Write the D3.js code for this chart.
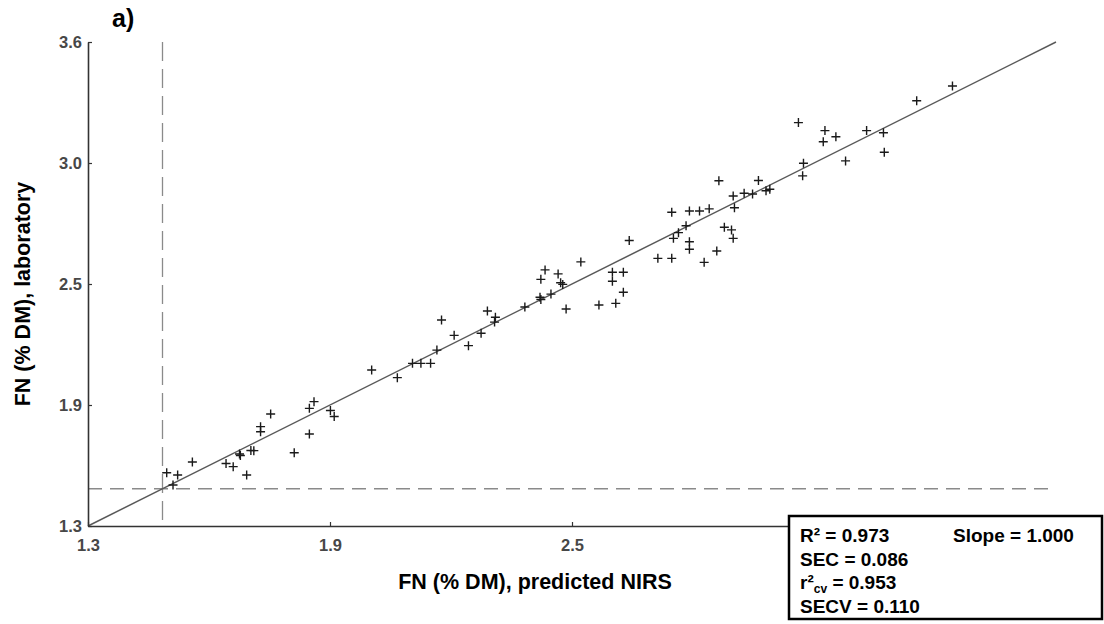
<!DOCTYPE html>
<html>
<head>
<meta charset="utf-8">
<script src="https://cdn.jsdelivr.net/npm/d3@7/dist/d3.min.js"></script>
<style>
  html, body { margin: 0; padding: 0; background: #fff; }
  svg { display: block; }
  text { white-space: pre; }
</style>
</head>
<body>
<svg id="chart" width="1104" height="624"></svg>
<script>
// ---- data ----
const predictedNIRS = [1.487,1.513,1.502,1.548,1.628,1.645,1.660,1.662,1.687,1.694,1.677,1.710,1.710,1.734,1.790,1.826,1.826,1.837,1.876,1.885,
  1.974,2.035,2.071,2.091,2.114,2.129,2.140,2.170,2.204,2.234,2.249,2.268,2.266,2.338,2.436,2.514,2.374,2.376,2.400,2.376,
  2.386,2.417,2.423,2.428,2.471,2.554,2.546,2.546,2.572,2.572,2.586,2.654,2.687,2.687,2.691,2.703,2.721,2.729,2.729,2.729,
  2.753,2.776,2.764,2.794,2.812,2.829,2.833,2.833,2.836,2.799,2.859,2.879,2.893,2.911,2.920,2.988,3.000,2.998,3.047,3.051,
  3.077,3.100,3.150,3.190,3.192,3.269,3.354];
const laboratory = [1.553,1.542,1.495,1.604,1.597,1.582,1.642,1.635,1.659,1.658,1.542,1.772,1.748,1.832,1.648,1.737,1.859,1.891,1.849,1.820,
  2.041,2.005,2.073,2.073,2.073,2.136,2.279,2.206,2.157,2.216,2.322,2.292,2.269,2.341,2.331,2.350,2.387,2.376,2.402,2.472,
  2.517,2.498,2.456,2.448,2.555,2.358,2.506,2.463,2.506,2.411,2.657,2.572,2.572,2.791,2.667,2.694,2.727,2.651,2.615,2.797,
  2.797,2.807,2.553,2.607,2.720,2.707,2.667,2.868,2.812,2.941,2.881,2.878,2.942,2.893,2.900,3.217,3.024,2.964,3.126,3.179,
  3.150,3.035,3.179,3.169,3.076,3.321,3.391];
const axisDomain = [1.3, 3.6];
const yTickValues = [1.3, 1.875, 2.45, 3.025, 3.6];
const yTickLabels = ["1.3", "1.9", "2.5", "3.0", "3.6"];
// x ticks at 3.025 and 3.6 are hidden beneath the statistics box in the original
const xTickValues = [1.3, 1.875, 2.45, 3.025, 3.6];
const xTickLabels = ["1.3", "1.9", "2.5", "", ""];
const thresholdValue = 1.477;
const statsLines = [
  {label: "R²", sub: null, value: "= 0.973"},
  {label: "SEC", sub: null, value: "= 0.086"},
  {label: "r²", sub: "cv", value: "= 0.953"},
  {label: "SECV", sub: null, value: "= 0.110"}
];
const slopeText = "Slope = 1.000";
const panelTitle = "a)";
const xTitle = "FN (% DM), predicted NIRS";
const yTitle = "FN (% DM), laboratory";

// ---- drawing ----
const font = "'Liberation Sans', Arial, sans-serif";
const svg = d3.select("#chart");
const x = d3.scaleLinear().domain(axisDomain).range([88, 1056]);
const y = d3.scaleLinear().domain(axisDomain).range([526, 42]);

// dashed threshold lines
svg.append("line")
  .attr("x1", x(thresholdValue)).attr("x2", x(thresholdValue))
  .attr("y1", y(axisDomain[1])).attr("y2", y(axisDomain[0]))
  .attr("stroke", "#8a8a8a").attr("stroke-width", 1.3)
  .attr("stroke-dasharray", "19,8");
svg.append("line")
  .attr("x1", x(axisDomain[0])).attr("x2", x(axisDomain[1]))
  .attr("y1", y(thresholdValue)).attr("y2", y(thresholdValue))
  .attr("stroke", "#8a8a8a").attr("stroke-width", 1.3)
  .attr("stroke-dasharray", "14,8");

// 1:1 line
svg.append("line")
  .attr("x1", x(axisDomain[0])).attr("y1", y(axisDomain[0]))
  .attr("x2", x(axisDomain[1])).attr("y2", y(axisDomain[1]))
  .attr("stroke", "#5a5a5a").attr("stroke-width", 1.5);

// axes
const yAxis = svg.append("g").attr("transform", `translate(${x(axisDomain[0])},0)`)
  .call(d3.axisLeft(y).tickValues(yTickValues).tickFormat((d, i) => yTickLabels[i])
    .tickSizeInner(-4).tickSizeOuter(0).tickPadding(6));
const xAxis = svg.append("g").attr("transform", `translate(0,${y(axisDomain[0])})`)
  .call(d3.axisBottom(x).tickValues(xTickValues).tickFormat((d, i) => xTickLabels[i])
    .tickSizeInner(-4).tickSizeOuter(0).tickPadding(13));
[yAxis, xAxis].forEach(g => {
  g.select(".domain").attr("stroke", "#333").attr("stroke-width", 1.6);
  g.selectAll(".tick line").attr("stroke", "#333").attr("stroke-width", 1.2);
  g.selectAll(".tick text")
    .attr("fill", "#474747")
    .style("font-family", font)
    .style("font-size", "16.5px")
    .style("font-weight", "bold");
});
yAxis.selectAll(".tick text").attr("dy", "0.36em");
xAxis.selectAll(".tick text").filter(function() { return this.textContent === ""; }).remove();

// points as plus markers
const pts = predictedNIRS.map((v, i) => [v, laboratory[i]]);
const s = 4.5;
svg.append("g").selectAll("path").data(pts).join("path")
  .attr("d", d => `M${x(d[0]) - s},${y(d[1])}H${x(d[0]) + s}M${x(d[0])},${y(d[1]) - s}V${y(d[1]) + s}`)
  .attr("stroke", "#1a1a1a").attr("stroke-width", 1.4).attr("fill", "none");

// titles
svg.append("text").attr("x", 112).attr("y", 27).text(panelTitle)
  .style("font-family", font).style("font-size", "25px").style("font-weight", "bold");
svg.append("text").attr("x", 535).attr("y", 589).attr("text-anchor", "middle").text(xTitle)
  .style("font-family", font).style("font-size", "21.5px").style("font-weight", "bold");
svg.append("text").attr("transform", "translate(30,294) rotate(-90)").attr("text-anchor", "middle").text(yTitle)
  .style("font-family", font).style("font-size", "21.5px").style("font-weight", "bold");

// stats box
const box = svg.append("g");
box.append("rect").attr("x", 789).attr("y", 516).attr("width", 313).attr("height", 103)
  .attr("fill", "#fff").attr("stroke", "#000").attr("stroke-width", 2.5);
statsLines.forEach((st, i) => {
  const by = 542 + i * 23.5;
  let cx = 800;
  const t1 = box.append("text").attr("x", cx).attr("y", by).text(st.label)
    .style("font-family", font).style("font-size", "19px").style("font-weight", "bold");
  cx += t1.node().getComputedTextLength();
  if (st.sub) {
    const t2 = box.append("text").attr("x", cx).attr("y", by + 4).text(st.sub)
      .style("font-family", font).style("font-size", "12px").style("font-weight", "bold");
    cx += t2.node().getComputedTextLength();
  }
  cx += 5.3;
  box.append("text").attr("x", cx).attr("y", by).text(st.value)
    .style("font-family", font).style("font-size", "19px").style("font-weight", "bold");
});
box.append("text").attr("x", 953).attr("y", 542).text(slopeText)
  .style("font-family", font).style("font-size", "19px").style("font-weight", "bold");
</script>
</body>
</html>
